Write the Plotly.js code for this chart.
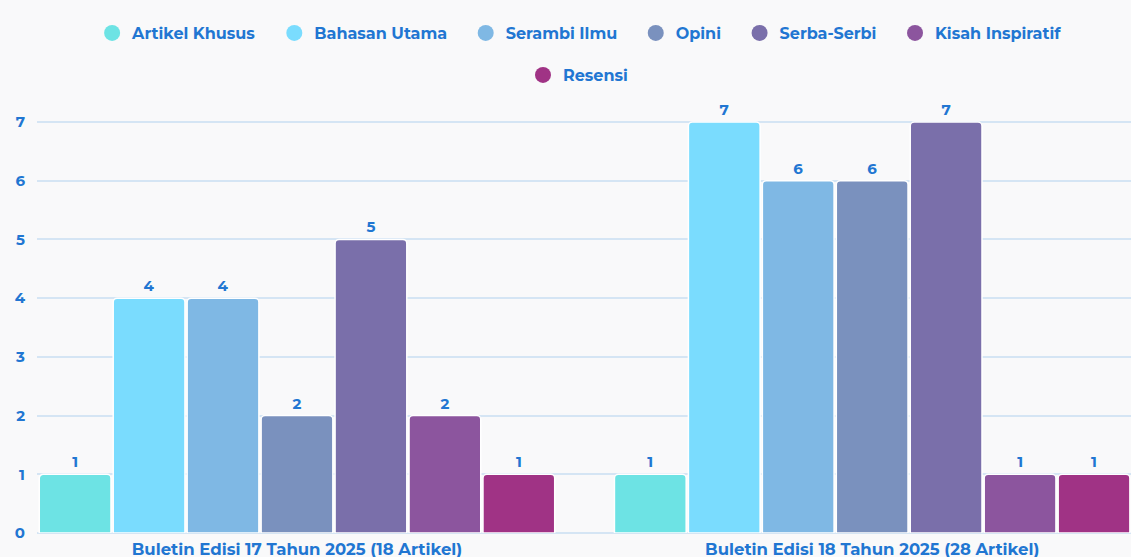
<!DOCTYPE html>
<html>
<head>
<meta charset="utf-8">
<script src="https://cdn.plot.ly/plotly-3.0.1.min.js"></script>
<style>
html,body{margin:0;padding:0;background:#f9f9fa;}
#chart{width:1131px;height:557px;}
</style>
</head>
<body>
<div id="chart"></div>
<script>
const categories = ["Buletin Edisi 17 Tahun 2025 (18 Artikel)", "Buletin Edisi 18 Tahun 2025 (28 Artikel)"];
const seriesNames = ["Artikel Khusus", "Bahasan Utama", "Serambi Ilmu", "Opini", "Serba-Serbi", "Kisah Inspiratif", "Resensi"];
const artikelKhusus = [1, 1];
const bahasanUtama = [4, 7];
const serambiIlmu = [4, 6];
const opini = [2, 6];
const serbaSerbi = [5, 7];
const kisahInspiratif = [2, 1];
const resensi = [1, 1];
const yTicks = [0, 1, 2, 3, 4, 5, 6, 7];

const seriesValues = [artikelKhusus, bahasanUtama, serambiIlmu, opini, serbaSerbi, kisahInspiratif, resensi];
const colors = ["#6de3e4", "#7adcfe", "#7fb8e4", "#7a91be", "#7a6faa", "#8c559e", "#a03385"];
const textBlue = "#2176d2";
const fontFam = "Montserrat, 'Open Sans', sans-serif";

const traces = [];
seriesNames.forEach((name, i) => {
  traces.push({
    type: "bar",
    name: name,
    x: categories,
    y: seriesValues[i],
    text: seriesValues[i].map(String),
    textposition: "outside",
    cliponaxis: false,
    textfont: {family: fontFam, size: 15, color: textBlue, weight: 700},
    marker: {color: colors[i], line: {color: "#ffffff", width: 1.5}},
    showlegend: false,
    hoverinfo: "x+y+name"
  });
});
// legend entries with circle markers
seriesNames.forEach((name, i) => {
  traces.push({
    type: "scatter",
    mode: "markers",
    name: i < 5 ? name + "\u00a0\u00a0\u00a0" : name,
    x: [null],
    y: [null],
    marker: {color: colors[i], size: 17, symbol: "circle"},
    showlegend: true,
    legend: i < 6 ? "legend" : "legend2",
    hoverinfo: "skip"
  });
});

const layout = {
  width: 1131,
  height: 557,
  paper_bgcolor: "#f9f9fa",
  plot_bgcolor: "#f9f9fa",
  margin: {l: 37, r: 0, t: 100, b: 24, autoexpand: false},
  barmode: "group",
  bargap: 0.1,
  bargroupgap: 0.03,
  barcornerradius: 4,
  font: {family: fontFam, color: textBlue},
  xaxis: {
    type: "category",
    range: [-0.452, 1.450],
    showgrid: false,
    zeroline: false,
    showline: false,
    ticks: "",
    ticklabelstandoff: 4,
    tickfont: {family: fontFam, size: 16.5, color: textBlue, weight: 700}
  },
  yaxis: {
    range: [0, 7.375],
    tickvals: yTicks,
    ticktext: yTicks.map(String),
    showgrid: true,
    gridcolor: "#d5e5f4",
    gridwidth: 2,
    zeroline: true,
    zerolinecolor: "#d5e5f4",
    zerolinewidth: 2,
    showline: false,
    ticks: "",
    ticklabelstandoff: 11,
    tickfont: {family: fontFam, size: 15, color: textBlue, weight: 700}
  },
  legend: {
    orientation: "h",
    x: 0.496, xanchor: "center", xref: "paper",
    y: 1.1547, yanchor: "middle",
    bgcolor: "rgba(0,0,0,0)",
    font: {family: fontFam, size: 16, color: textBlue, weight: 700},
    itemclick: false, itemdoubleclick: false
  },
  legend2: {
    orientation: "h",
    x: 0.4945, xanchor: "center", xref: "paper",
    y: 1.0577, yanchor: "middle",
    bgcolor: "rgba(0,0,0,0)",
    font: {family: fontFam, size: 16, color: textBlue, weight: 700},
    itemclick: false, itemdoubleclick: false
  }
};

Plotly.newPlot("chart", traces, layout, {displayModeBar: false, responsive: false});
</script>
</body>
</html>
